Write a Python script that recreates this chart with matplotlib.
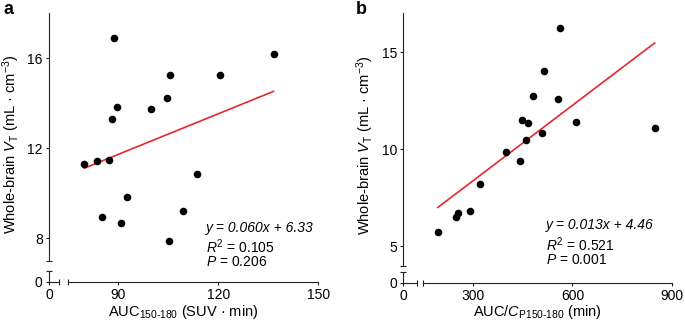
import matplotlib
matplotlib.use("Agg")
import matplotlib.pyplot as plt
import numpy as np

plt.rcParams['font.family'] = ['Liberation Sans', 'DejaVu Sans']
plt.rcParams['mathtext.fontset'] = 'custom'
plt.rcParams['mathtext.rm'] = 'Liberation Sans'
plt.rcParams['mathtext.it'] = 'Liberation Sans:italic'
plt.rcParams['mathtext.bf'] = 'Liberation Sans:bold'

# panel a: AUC150-180 vs whole-brain VT
auc_a = [79.8, 83.5, 87.2, 85.2, 88.8, 88.2, 89.5, 90.9, 92.7, 99.7,
         104.5, 105.6, 105.2, 109.5, 113.6, 120.4, 136.6]
vt_a = [11.31, 11.44, 11.50, 8.97, 16.88, 13.30, 13.85, 8.70, 9.85, 13.76,
        14.22, 15.24, 7.87, 9.20, 10.87, 15.25, 16.20]
slope_a, icpt_a = 0.060, 6.33
r2_a, p_a = '0.105', '0.206'

# panel b: AUC/Cp150-180 vs whole-brain VT
auc_b = [195.5, 249.7, 255.7, 293.0, 321.0, 401.6, 443.8, 449.8, 458.9, 467.9,
         482.1, 507.1, 513.2, 556.3, 562.3, 610.5, 846.9]
vt_b = [5.76, 6.50, 6.72, 6.83, 8.22, 9.84, 9.41, 11.52, 10.45, 11.33,
        12.74, 10.86, 14.05, 12.60, 16.24, 11.38, 11.10]
slope_b, icpt_b = 0.013, 4.46
r2_b, p_b = '0.521', '0.001'

W, H = 685, 322
fig = plt.figure(figsize=(W / 100, H / 100), dpi=100)


def box(l, t, r, b):
    # pixel box -> figure fraction
    return [l / W, 1 - b / H, (r - l) / W, (b - t) / H]


def style_spines(a):
    for s in ['top', 'right']:
        a.spines[s].set_visible(False)
    for s in ['left', 'bottom']:
        a.spines[s].set_linewidth(0.8)
        a.spines[s].set_color('#222222')
    a.tick_params(which='major', length=2.5, width=0.8, labelsize=10,
                  pad=2, color='#222222')
    a.tick_params(which='minor', length=4, width=0.8, direction='inout',
                  color='#222222')


def panel(main_px, brk_px, x, y, slope, icpt, xlim, ylim, xticks, yticks,
          xlabel, letter, letter_x, txt_px, r2, p):
    ax = fig.add_axes(box(*main_px))
    ax.scatter(x, y, s=30, color='black', zorder=3, linewidths=0)
    xx = np.array([min(x), max(x)])
    ax.plot(xx, slope * xx + icpt, color='#e8262b', lw=1.2)
    ax.set_xlim(*xlim)
    ax.set_ylim(*ylim)
    ax.set_xticks(xticks)
    ax.set_yticks(yticks)
    # caps at the broken ends
    ax.set_xticks([xlim[0]], minor=True)
    ax.set_yticks([ylim[0]], minor=True)
    style_spines(ax)
    off_l = (main_px[0] - brk_px[0]) * 0.72
    off_b = (brk_px[3] - main_px[3]) * 0.72
    ax.spines['left'].set_position(('outward', off_l))
    ax.spines['bottom'].set_position(('outward', off_b))

    # little segment holding the zero
    bx = fig.add_axes(box(*brk_px))
    bx.set_xlim(0, 1)
    bx.set_ylim(0, 1)
    bx.patch.set_visible(False)
    bx.set_xticks([0])
    bx.set_yticks([0])
    bx.set_xticks([1], minor=True)
    bx.set_yticks([1], minor=True)
    style_spines(bx)

    # labels
    cx = (brk_px[0] + main_px[2]) / 2
    fig.text(cx / W, 1 - 316 / H, xlabel, ha='center', va='baseline', fontsize=10.5)
    cy = (main_px[1] + brk_px[3]) / 2 - 3
    fig.text((brk_px[0] - 38) / W, 1 - cy / H,
             r'Whole-brain $\mathit{V}_\mathrm{T}$ (mL · cm$^{-3}$)',
             rotation=90, ha='center', va='center', fontsize=10.5)
    fig.text(letter_x / W, 1 - 1 / H, letter, ha='left', va='top',
             fontsize=13, fontweight='bold')
    tx, ty = txt_px
    fig.text(tx / W, 1 - ty / H, f'y = {slope:.3f}x + {icpt:.2f}',
             style='italic', fontsize=10, va='center')
    fig.text(tx / W, 1 - (ty + 19) / H, r'$\mathit{R}^{2}$ = ' + r2,
             fontsize=10, va='center')
    fig.text(tx / W, 1 - (ty + 34.5) / H, r'$\mathit{P}$ = ' + p,
             fontsize=10, va='center')
    return ax


panel((68.3, 13, 318.3, 261), (49, 270.7, 59.3, 281.7), auc_a, vt_a,
      slope_a, icpt_a, (75, 150), (7, 18), [90, 120, 150], [8, 12, 16],
      r'AUC$_\mathrm{150‐180}$ (SUV · min)', 'a', 3, (205.7, 227.7), r2_a, p_a)

panel((422.7, 13.3, 672.3, 265.7), (403.3, 271.7, 417.3, 282.7), auc_b, vt_b,
      slope_b, icpt_b, (150, 900), (4, 17), [300, 600, 900], [5, 10, 15],
      r'AUC/$\mathit{C}_\mathrm{P150‐180}$ (min)', 'b', 356, (545.7, 225.3), r2_b, p_b)

plt.savefig('out.png', dpi=100)
